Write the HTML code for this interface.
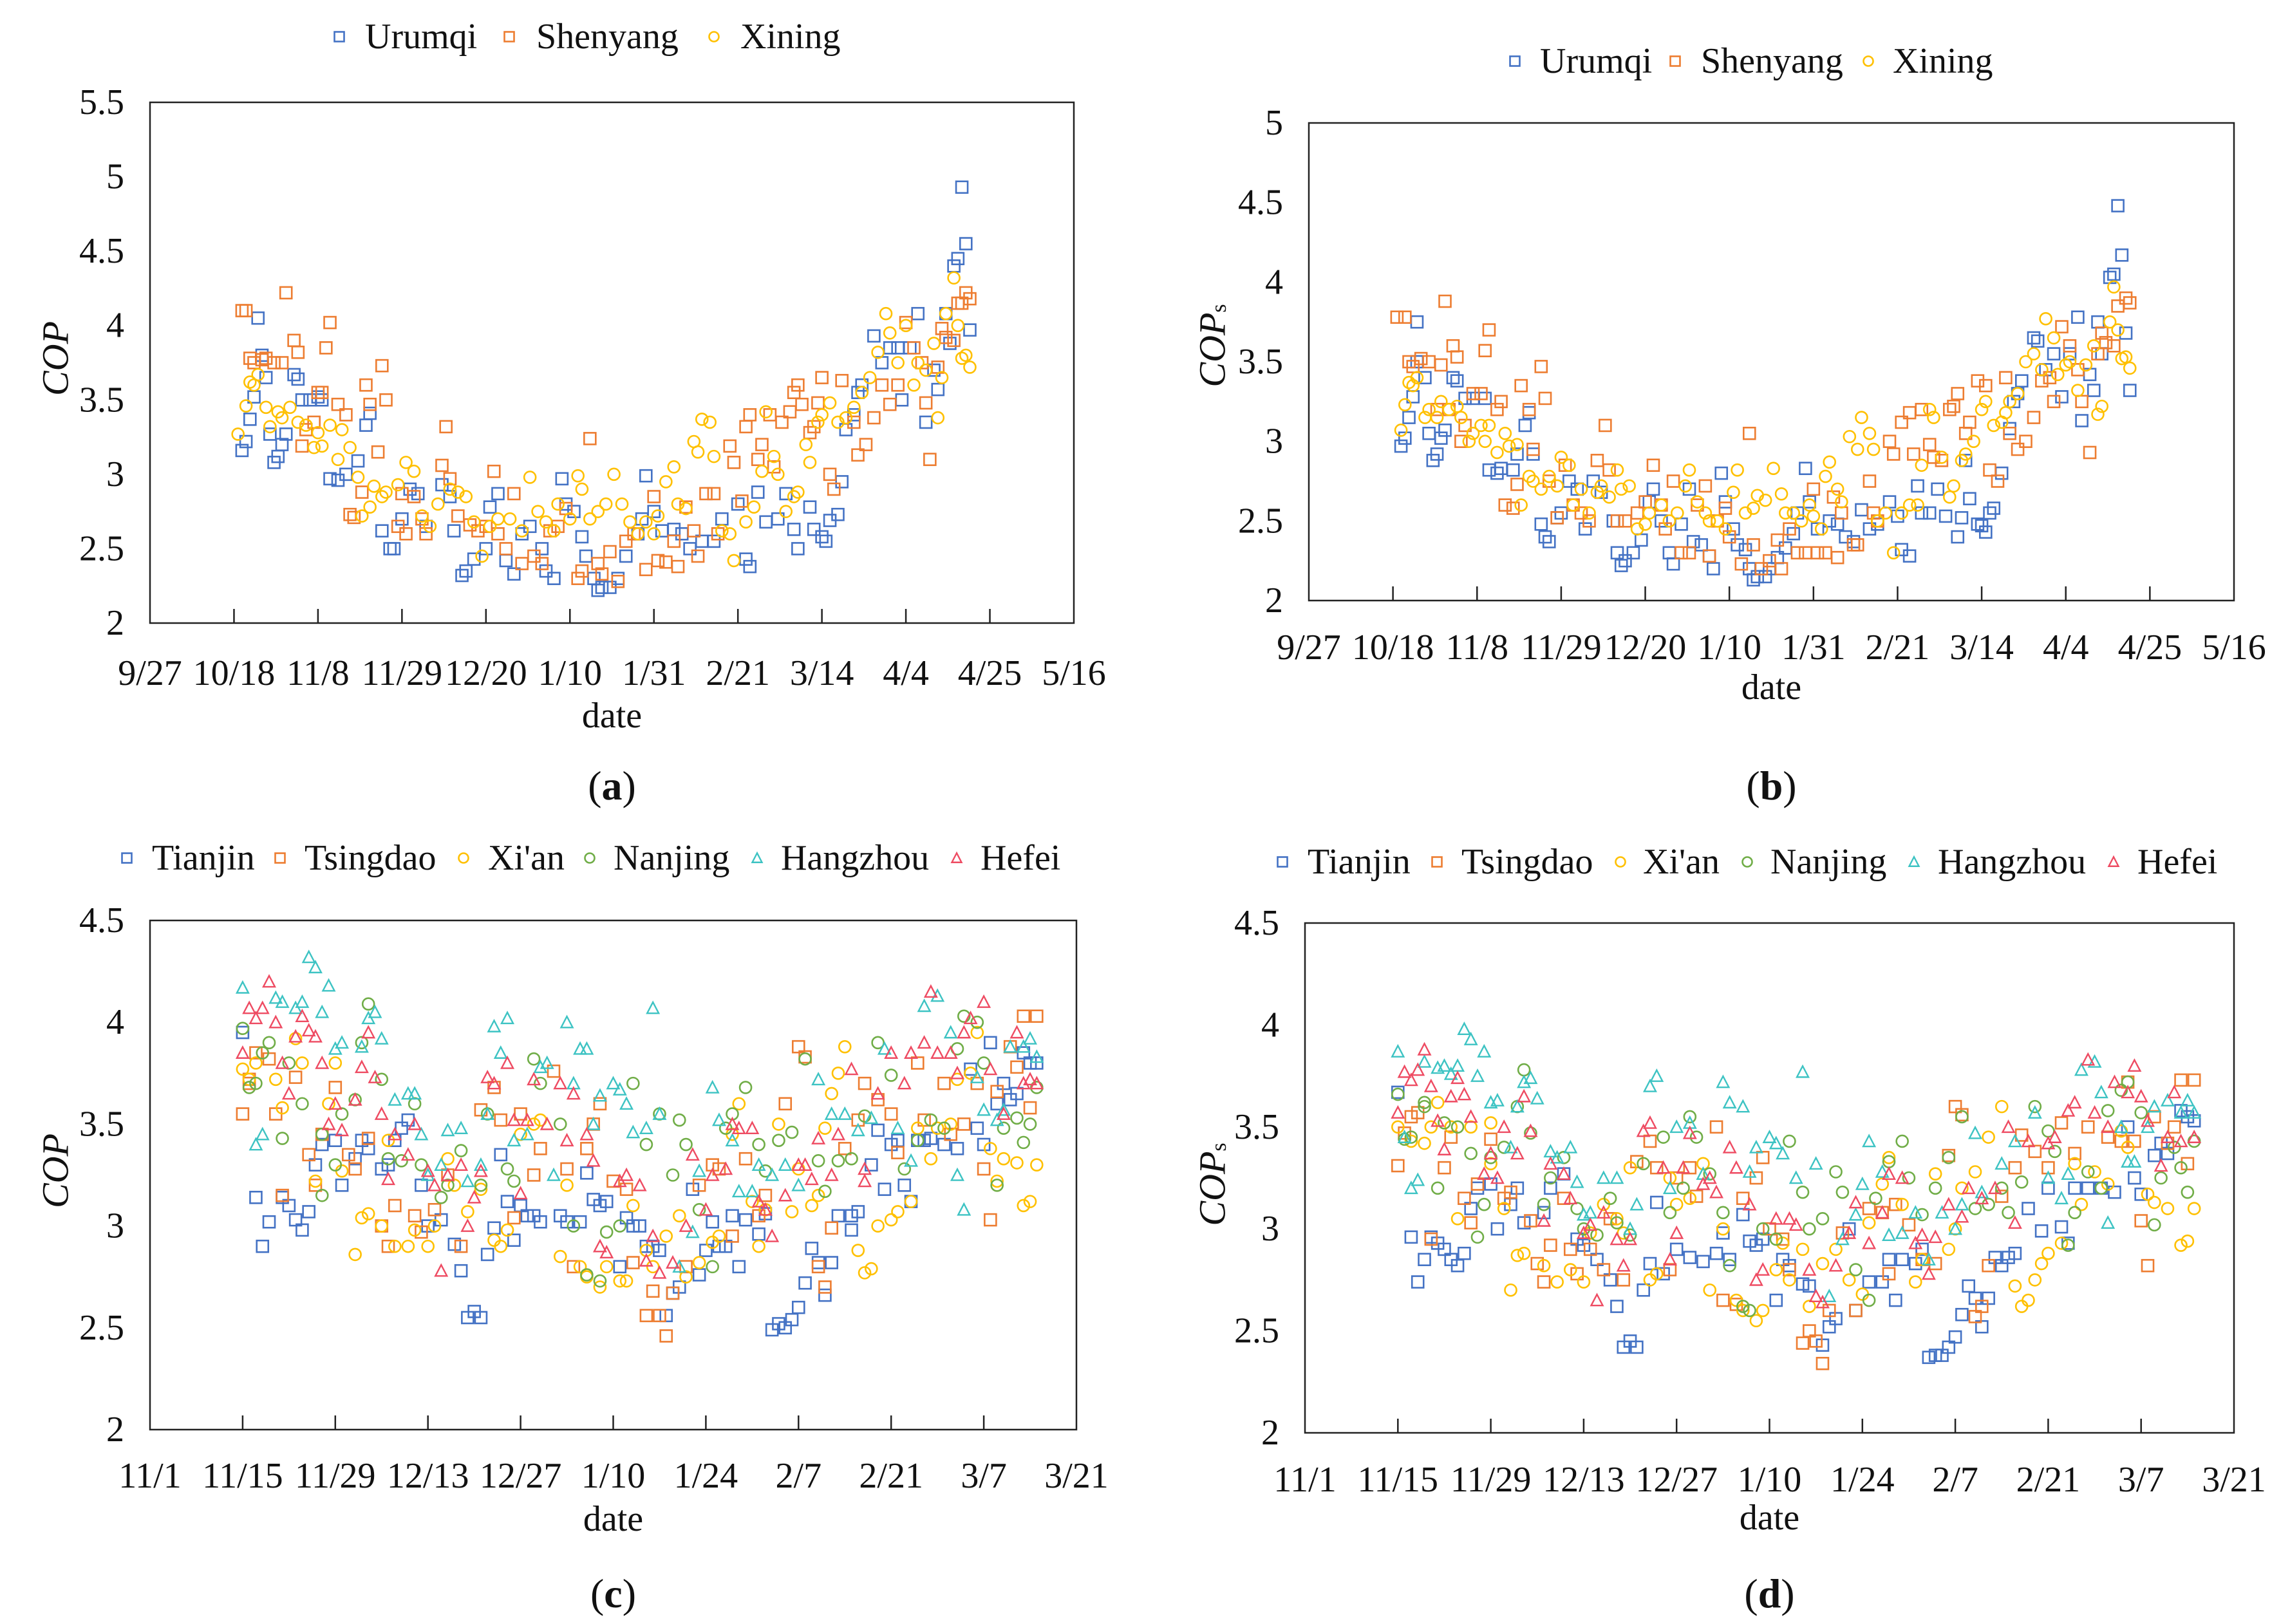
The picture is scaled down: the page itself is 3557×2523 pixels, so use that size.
<!DOCTYPE html>
<html><head><meta charset="utf-8"><style>
html,body{margin:0;padding:0;background:#fff;}
svg{display:block;font-family:"Liberation Serif","DejaVu Serif",serif;}
svg text{font-family:"Liberation Serif","DejaVu Serif",serif;}
</style></head><body>
<svg id="fig" width="3557" height="2523" viewBox="0 0 3557 2523" xmlns="http://www.w3.org/2000/svg" font-family="Liberation Serif, serif">
<rect width="3557" height="2523" fill="#fff"/>
</svg>
<script>
// ---------- tick labels ----------
const abTickLabels = ["9/27","10/18","11/8","11/29","12/20","1/10","1/31","2/21","3/14","4/4","4/25","5/16"];
const cdTickLabels = ["11/1","11/15","11/29","12/13","12/27","1/10","1/24","2/7","2/21","3/7","3/21"];
const aYTicks = ["2","2.5","3","3.5","4","4.5","5","5.5"];
const bYTicks = ["2","2.5","3","3.5","4","4.5","5"];
const cdYTicks = ["2","2.5","3","3.5","4","4.5"];

// ---------- panel (a) data: day offset from 9/27, COP ----------
const urumqiDaysA = [23,24,25,27,26,28,29,30,31,32,33,34,36,37,38,40,42,43,45,47,49,52,54,55,58,60,61,63,65,67,69,73,75,76,78,79,81,84,85,87,89,91,93,95,98,99,101,103,104,106,108,109,111,112,113,115,117,119,122,123,124,126,128,131,133,135,138,141,143,147,149,150,152,154,157,159,161,162,165,166,168,169,170,172,173,174,176,177,178,181,183,185,187,188,190,192,194,196,197,199,200,201,202,203,204,205];
const urumqiCopA = [3.16,3.22,3.37,4.05,3.52,3.8,3.65,3.27,3.08,3.12,3.2,3.27,3.67,3.64,3.5,3.5,3.52,3.5,2.97,2.96,3.0,3.09,3.33,3.41,2.62,2.5,2.5,2.7,2.9,2.87,2.65,2.93,2.85,2.62,2.32,2.35,2.43,2.5,2.78,2.87,2.42,2.33,2.6,2.65,2.5,2.35,2.3,2.97,2.8,2.75,2.58,2.45,2.3,2.22,2.24,2.24,2.3,2.45,2.6,2.7,2.99,2.75,2.62,2.63,2.6,2.5,2.55,2.55,2.7,2.8,2.43,2.38,2.88,2.68,2.7,2.87,2.63,2.5,2.78,2.63,2.58,2.55,2.69,2.73,2.95,3.3,3.4,3.55,3.6,3.93,3.75,3.85,3.85,3.5,3.85,4.08,3.35,3.7,3.57,4.08,3.88,4.4,4.45,4.93,4.55,3.97,3.55].slice(0,106);
const shenyangDaysA = [23,24,25,26,28,29,31,33,34,36,37,38,39,41,42,43,44,45,47,49,50,51,53,54,55,57,58,59,62,63,64,66,68,69,73,74,75,77,80,82,84,86,87,89,91,93,96,98,100,102,104,107,108,110,112,113,115,117,119,121,124,126,127,129,131,132,134,136,137,139,141,142,145,146,148,149,150,152,153,155,156,158,160,161,162,163,165,166,167,168,170,171,173,176,177,179,181,183,185,187,189,191,193,194,195,197,198,199,201,202,203,204,205];
const shenyangCopA = [4.1,4.1,3.78,3.75,3.77,3.78,3.75,3.75,4.22,3.9,3.82,3.19,3.3,3.35,3.55,3.55,3.85,4.02,3.47,3.4,2.73,2.71,2.88,3.6,3.47,3.15,3.73,3.5,2.65,2.87,2.6,2.85,2.7,2.6,3.06,3.32,2.97,2.72,2.66,2.62,2.65,3.02,2.6,2.5,2.87,2.4,2.45,2.4,2.62,2.65,2.77,2.3,2.35,3.24,2.4,2.33,2.48,2.28,2.55,2.6,2.36,2.85,2.42,2.41,2.55,2.38,2.78,2.62,2.45,2.87,2.87,2.6,3.19,3.08,2.82,3.32,3.4,3.1,3.2,3.4,3.05,3.35,3.42,3.55,3.6,3.47,3.28,3.32,3.48,3.65,3.0,2.9,3.63,3.35,3.13,3.2,3.38,3.6,3.47,3.6,4.02,3.85,3.75,3.48,3.1,3.72,3.98,3.92,3.9,4.15,4.15,4.22,4.18];
const xiningDaysA = [22,24,25,26,27,29,30,32,33,35,37,39,41,42,43,45,47,48,50,52,53,55,56,58,59,62,64,66,68,70,72,75,77,79,81,83,85,87,90,93,95,97,99,101,102,105,107,108,110,112,114,116,118,120,122,124,126,127,129,131,132,134,136,137,138,140,141,143,145,146,149,151,153,154,156,157,159,161,162,164,165,167,168,170,172,174,176,178,180,182,184,185,187,189,191,192,194,196,197,198,199,201,202,203,204,205];
const xiningCopA = [3.27,3.46,3.62,3.6,3.67,3.45,3.32,3.42,3.38,3.45,3.35,3.33,3.18,3.28,3.19,3.33,3.1,3.3,3.18,2.98,2.72,2.78,2.92,2.85,2.88,2.93,3.08,3.02,2.72,2.65,2.8,2.9,2.88,2.85,2.68,2.45,2.65,2.7,2.7,2.62,2.98,2.75,2.68,2.62,2.8,2.7,2.99,2.9,2.7,2.75,2.8,3.0,2.8,2.68,2.6,2.68,2.6,2.72,2.95,3.05,2.8,2.77,3.22,3.15,3.37,3.35,3.12,2.62,2.6,2.42,2.68,2.78,3.02,3.42,3.12,3.0,2.75,2.85,2.88,3.2,3.08,3.35,3.4,3.48,3.35,3.38,3.45,3.55,3.65,3.82,4.08,3.95,3.75,4.0,3.6,3.75,3.7,3.88,3.38,3.65,4.08,4.32,4.0,3.78,3.8,3.72];

// ---------- panel (b) data: COPs ----------
const urumqiDaysB = [23,24,25,26,27,27,29,30,31,32,33,34,36,37,39,41,44,45,47,48,51,52,54,55,56,58,59,60,62,63,65,67,69,71,73,76,77,78,79,81,83,85,86,88,90,91,93,95,96,98,100,101,103,104,106,107,109,110,111,112,114,115,117,119,121,122,124,125,127,130,132,134,136,138,140,142,145,147,148,150,152,153,155,157,159,162,163,164,165,167,168,169,170,171,173,175,176,177,178,181,182,184,186,188,190,192,193,195,196,197,198,200,201,202,203,204,205];
const urumqiCopB = [2.97,3.02,3.15,3.28,3.75,3.5,3.4,3.05,2.88,2.92,3.02,3.07,3.4,3.38,3.27,3.27,3.27,2.82,2.8,2.83,2.82,2.92,3.1,3.18,2.92,2.48,2.4,2.37,2.52,2.55,2.75,2.7,2.45,2.75,2.68,2.5,2.3,2.22,2.25,2.3,2.38,2.62,2.7,2.5,2.3,2.23,2.48,2.7,2.37,2.35,2.28,2.2,2.8,2.62,2.45,2.35,2.32,2.2,2.13,2.15,2.15,2.2,2.27,2.33,2.42,2.55,2.83,2.62,2.45,2.5,2.48,2.4,2.37,2.57,2.45,2.48,2.62,2.53,2.32,2.28,2.72,2.55,2.55,2.7,2.53,2.4,2.52,2.88,2.64,2.48,2.47,2.43,2.55,2.58,2.8,3.08,3.25,3.3,3.38,3.65,3.63,3.45,3.55,3.28,3.55,3.78,3.13,3.42,3.32,3.75,3.55,4.03,4.05,4.48,4.17,3.68,3.32];
const shenyangDaysB = [22,24,25,26,28,30,32,33,34,35,36,37,38,39,41,43,44,45,47,48,49,51,52,53,55,56,58,59,60,62,64,66,68,70,72,74,75,77,79,82,84,86,88,89,91,93,95,97,99,100,102,104,105,108,110,111,113,115,117,118,120,122,124,126,127,129,131,132,133,136,137,140,141,142,145,146,148,150,151,153,155,156,158,160,161,162,164,165,167,169,170,172,174,175,177,179,181,183,185,186,188,190,192,193,195,197,198,199,201,202,204,205];
const shenyangCopB = [3.78,3.78,3.5,3.47,3.52,3.5,3.2,3.48,3.88,3.2,3.6,3.53,3.0,3.1,3.3,3.3,3.57,3.7,3.2,3.25,2.6,2.58,2.73,3.35,3.2,2.95,3.47,3.27,2.75,2.52,2.85,2.6,2.55,2.5,2.88,3.1,2.82,2.5,2.5,2.55,2.62,2.85,2.6,2.45,2.75,2.3,2.3,2.6,2.72,2.28,2.5,2.58,2.4,2.23,3.05,2.35,2.2,2.25,2.38,2.2,2.45,2.3,2.3,2.7,2.3,2.3,2.65,2.27,2.55,2.35,2.35,2.75,2.55,2.5,3.0,2.92,3.12,3.18,2.92,3.2,2.98,2.9,2.88,3.2,3.22,3.3,3.05,3.12,3.38,3.35,2.82,2.75,3.4,3.05,2.95,3.0,3.15,3.38,3.4,3.25,3.72,3.6,3.45,3.25,2.93,3.55,3.68,3.62,3.6,3.85,3.9,3.87];
const xiningDaysB = [23,24,25,26,27,29,30,32,33,35,37,38,40,41,43,44,45,47,49,50,52,53,55,56,58,60,62,63,65,66,68,70,72,73,75,77,78,80,82,84,85,88,90,92,94,95,97,99,100,102,104,106,107,109,111,112,114,116,118,119,121,123,125,126,128,129,130,132,133,135,137,138,140,141,142,144,146,148,150,152,153,155,156,158,160,161,163,164,166,168,169,171,173,174,175,177,179,181,183,184,186,187,189,190,192,194,196,197,198,200,201,202,203,204,205];
const xiningCopB = [3.07,3.23,3.37,3.35,3.4,3.15,3.2,3.15,3.25,3.2,3.22,3.15,3.0,3.05,3.1,3.0,3.1,2.93,3.05,2.97,2.98,2.6,2.78,2.75,2.7,2.78,2.72,2.9,2.85,2.6,2.7,2.55,2.68,2.72,2.65,2.82,2.7,2.72,2.45,2.48,2.55,2.6,2.5,2.55,2.72,2.82,2.62,2.55,2.5,2.5,2.45,2.68,2.82,2.55,2.58,2.66,2.63,2.83,2.67,2.55,2.55,2.5,2.6,2.53,2.45,2.78,2.87,2.7,2.62,3.03,2.95,3.15,3.05,2.95,2.5,2.55,2.3,2.55,2.6,2.6,2.85,3.2,3.15,2.9,2.65,2.72,2.88,2.92,3.0,3.2,3.25,3.1,3.12,3.18,3.25,3.3,3.5,3.55,3.45,3.77,3.65,3.42,3.48,3.5,3.32,3.48,3.6,3.17,3.22,3.75,3.97,3.7,3.52,3.53,3.46];

// ---------- panel (c) data: day offset from 11/1, COP ----------
const tianjinDaysC = [14,16,17,18,20,21,22,23,24,25,26,28,29,31,32,33,35,36,37,38,39,41,42,44,46,47,48,49,50,51,52,53,54,55,56,57,58,59,62,63,65,66,67,68,69,71,72,73,74,75,76,77,78,79,80,82,83,84,85,86,87,88,89,90,92,93,94,95,96,97,98,99,100,101,102,103,104,106,106,107,109,110,111,112,113,114,115,116,117,118,120,122,124,125,126,127,128,129,130,131,132,133,134];
const tianjinCopC = [3.95,3.14,2.9,3.02,3.14,3.1,3.03,2.98,3.07,3.3,3.4,3.42,3.2,3.33,3.42,3.38,3.28,3.3,3.42,3.48,3.52,3.2,3.0,3.03,2.91,2.78,2.55,2.58,2.55,2.86,2.99,3.35,3.12,2.93,3.1,3.05,3.05,3.02,3.05,3.02,3.02,3.26,3.13,3.1,3.12,2.8,3.04,3.0,3.0,2.9,2.9,2.88,2.56,2.67,2.7,3.18,2.76,2.88,3.02,2.9,2.9,3.05,2.8,3.03,2.96,3.06,2.49,2.52,2.5,2.54,2.6,2.72,2.89,2.82,2.66,2.82,3.05,2.98,3.05,3.07,3.3,3.47,3.18,3.4,3.42,3.2,3.12,3.42,3.42,3.43,3.4,3.38,3.77,3.48,3.4,3.9,3.6,3.7,3.62,3.65,3.85,3.8,3.8];
const tsingdaoDaysC = [14,15,15,16,18,19,20,22,24,25,26,28,30,31,33,35,36,37,40,41,43,45,47,50,52,53,55,56,58,59,61,63,64,66,67,68,70,72,73,75,76,77,78,79,81,83,85,86,88,90,92,93,96,98,99,101,102,103,105,107,108,110,112,113,116,117,120,121,123,125,126,127,128,130,131,132,133,134];
const tsingdaoCopC = [3.55,3.7,3.72,3.85,3.82,3.55,3.15,3.73,3.35,3.2,3.45,3.68,3.35,3.28,3.43,3.0,2.9,3.1,3.05,2.97,3.08,3.25,2.9,3.57,3.68,3.52,3.04,3.55,3.25,3.38,3.76,3.28,2.8,3.38,3.5,3.6,3.22,3.18,2.82,2.56,2.68,2.56,2.46,2.67,2.8,3.2,3.3,3.28,2.95,3.33,3.05,3.15,3.6,3.88,3.83,2.8,2.7,2.99,3.38,3.52,3.7,3.62,3.55,3.36,3.8,3.52,3.7,3.45,3.5,3.7,3.28,3.03,3.66,3.88,3.78,4.03,3.58,4.03];
const xianDaysC = [14,15,16,19,20,22,23,25,27,28,29,31,32,33,35,36,37,39,40,42,43,45,46,48,50,52,53,54,56,58,59,62,63,65,66,68,69,71,72,73,75,76,78,80,81,83,85,86,88,89,91,92,93,95,97,98,100,101,102,103,104,105,107,108,109,110,112,113,115,116,118,119,121,122,124,125,127,128,129,131,132,133,134];
const xianCopC = [3.77,3.72,3.8,3.72,3.58,3.92,3.8,3.22,3.6,3.8,3.27,2.86,3.04,3.06,3.0,3.42,2.9,2.9,2.98,2.9,3.0,3.33,3.2,3.07,3.18,2.93,2.9,2.98,3.45,3.5,3.52,2.85,3.2,2.8,2.75,2.7,2.8,2.73,2.73,3.1,2.88,2.8,2.95,3.05,2.75,2.82,2.92,2.95,3.45,3.6,3.12,2.9,3.08,3.5,3.07,3.28,3.1,3.15,3.48,3.65,3.75,3.88,2.88,2.77,2.79,3.0,3.03,3.07,3.12,3.48,3.33,3.48,3.5,3.72,3.75,3.95,3.38,3.22,3.33,3.31,3.1,3.12,3.3];
const nanjingDaysC = [14,15,16,17,18,20,21,23,26,26,28,29,31,32,33,35,36,38,40,41,44,45,47,50,51,54,55,58,59,62,64,66,68,69,71,73,75,77,79,80,81,83,85,87,88,90,92,93,95,97,99,101,102,104,106,108,110,112,114,116,118,120,122,123,125,126,128,129,131,132,133,134];
const nanjingCopC = [3.97,3.68,3.7,3.85,3.9,3.43,3.8,3.6,3.15,3.45,3.3,3.55,3.62,3.9,4.09,3.72,3.33,3.32,3.6,3.3,3.14,3.2,3.37,3.2,3.55,3.28,3.22,3.82,3.7,3.5,3.0,2.76,2.73,2.97,3.0,3.7,3.4,3.55,3.25,3.52,3.4,3.08,2.8,3.48,3.55,3.68,3.4,3.27,3.42,3.46,3.82,3.32,3.17,3.32,3.33,3.54,3.9,3.74,3.28,3.42,3.52,3.48,3.87,4.03,4.0,3.8,3.2,3.48,3.53,3.41,3.5,3.68];
const hangzhouDaysC = [14,16,17,19,20,22,23,24,25,26,27,28,29,32,33,34,35,37,39,40,41,42,44,45,47,48,50,51,52,53,54,55,57,59,60,61,63,64,65,66,67,68,70,71,72,73,75,76,77,80,82,83,85,86,88,89,91,92,94,96,98,101,103,105,107,109,111,113,115,117,119,121,122,123,125,126,128,129,130,132,133,134];
const hangzhouCopC = [4.17,3.4,3.45,4.12,4.1,4.07,4.1,4.32,4.27,4.05,4.18,3.87,3.9,3.88,4.02,4.05,3.92,3.62,3.65,3.65,3.45,3.25,3.3,3.47,3.48,3.22,3.3,3.55,3.98,3.85,4.02,3.42,3.45,3.78,3.8,3.25,4.0,3.7,3.87,3.87,3.5,3.64,3.7,3.67,3.6,3.46,3.48,4.07,3.55,2.8,2.97,3.27,3.68,3.52,3.42,3.17,3.17,3.3,3.25,3.3,3.2,3.72,3.55,3.55,3.47,3.53,3.87,3.48,3.32,4.08,4.13,3.95,3.25,3.08,3.73,3.57,3.52,3.57,3.88,3.88,3.92,3.83];
const hefeiDaysC = [14,15,16,17,18,19,20,21,22,23,24,25,26,27,28,29,31,32,33,34,35,36,37,39,40,42,43,44,45,47,48,49,50,51,52,54,55,56,57,58,60,62,63,64,66,67,68,69,71,72,74,75,76,77,79,81,82,84,85,87,88,89,91,92,93,94,96,98,99,100,101,103,104,106,108,108,110,112,114,115,117,118,119,121,122,123,124,126,127,129,131,132,133,134];
const hefeiCopC = [3.85,4.07,4.02,4.07,4.2,4.0,3.8,3.65,3.93,4.03,3.96,3.93,3.8,3.5,3.6,3.47,3.62,3.78,3.95,3.73,3.55,3.23,3.45,3.35,3.5,3.27,3.2,2.78,3.25,3.3,3.0,3.14,3.27,3.73,3.7,3.8,3.52,3.16,3.52,3.72,3.5,3.7,3.42,3.65,3.45,3.32,2.9,2.87,3.22,3.25,3.2,2.83,2.95,2.77,2.82,3.0,3.35,3.08,3.25,3.28,3.5,3.48,3.48,3.12,3.08,2.95,3.15,3.3,3.3,3.23,3.43,3.25,3.45,3.77,3.22,3.28,3.65,3.85,3.7,3.85,3.9,4.15,3.85,3.85,3.75,3.95,4.02,4.1,3.77,3.55,3.95,3.7,3.72,3.7];

// ---------- panel (d) data: COPs ----------
const tianjinDaysD = [14,16,17,18,19,20,21,22,23,24,25,26,28,29,31,32,33,36,37,39,41,42,44,46,47,48,49,50,51,52,53,54,56,58,60,62,63,64,66,67,68,69,71,72,73,75,76,78,79,80,82,83,85,87,88,89,90,92,93,94,95,96,97,98,99,100,101,102,103,104,105,106,107,109,111,112,114,115,116,118,120,122,124,125,126,128,129,130,132,133,134];
const tianjinCopD = [3.67,2.96,2.74,2.85,2.96,2.93,2.9,2.85,2.82,2.88,3.1,3.2,3.22,3.0,3.12,3.2,3.03,3.08,3.2,3.27,2.95,2.92,2.85,2.75,2.62,2.42,2.45,2.42,2.7,2.83,3.13,2.78,2.9,2.86,2.84,2.88,2.98,2.85,3.07,2.94,2.92,2.95,2.65,2.85,2.82,2.73,2.72,2.43,2.52,2.56,3.0,2.6,2.74,2.74,2.85,2.65,2.85,2.83,2.9,2.37,2.38,2.38,2.42,2.47,2.58,2.72,2.66,2.52,2.66,2.86,2.82,2.86,2.88,3.1,2.99,3.2,3.01,2.93,3.2,3.2,3.2,3.18,3.5,3.25,3.17,3.36,3.42,3.37,3.58,3.55,3.53];
const tsingdaoDaysD = [14,15,16,17,19,21,22,24,25,26,28,30,31,34,35,36,37,39,40,41,43,45,46,48,50,52,53,55,56,58,59,62,63,65,66,68,69,70,72,73,75,76,77,78,79,81,83,85,87,88,89,91,93,95,97,98,99,101,102,103,105,107,108,110,112,114,116,118,121,123,124,125,126,127,128,130,131,132,133,134];
const tsingdaoCopD = [3.31,3.47,3.55,3.57,2.95,3.3,3.45,3.15,3.03,3.22,3.44,3.15,3.18,3.04,2.83,2.74,2.92,3.15,2.9,2.78,2.9,2.8,3.05,2.75,3.33,3.43,3.3,2.8,3.25,3.3,3.16,3.5,2.65,2.63,3.15,3.25,3.35,3.0,2.95,2.8,2.44,2.5,2.45,2.34,2.6,2.98,2.6,3.1,3.08,2.78,3.12,3.02,2.85,2.83,3.36,3.6,3.56,2.57,2.62,2.82,3.16,3.3,3.46,3.38,3.3,3.52,3.37,3.5,3.45,3.43,3.72,3.43,3.04,2.82,3.55,3.42,3.5,3.73,3.32,3.73];
const xianDaysD = [14,16,18,19,20,22,23,25,28,28,30,31,32,33,36,38,40,42,43,45,47,48,49,52,53,55,56,58,60,61,63,65,66,68,69,71,72,73,75,76,78,80,82,84,85,87,88,90,92,93,95,97,98,99,101,103,105,107,108,109,110,111,112,114,116,117,119,121,123,124,127,128,130,132,133,134];
const xianCopD = [3.5,3.43,3.42,3.5,3.62,3.5,3.05,3.5,3.52,3.32,3.1,2.7,2.87,2.88,2.82,2.74,2.8,2.74,2.98,3.12,3.05,2.98,3.3,2.75,2.78,3.25,3.12,3.15,3.32,2.7,3.0,2.65,2.6,2.55,2.6,2.8,2.93,2.75,2.9,2.62,2.83,2.9,2.75,2.68,3.03,3.22,3.35,3.12,2.74,2.85,3.27,2.9,3.0,3.2,3.28,3.45,3.6,2.72,2.62,2.65,2.75,2.83,2.88,2.93,3.32,3.12,3.28,3.22,3.48,3.4,3.17,3.13,3.1,2.92,2.94,3.1];
const nanjingDaysD = [14,15,16,18,18,20,21,23,25,26,27,28,30,32,33,34,36,37,39,41,42,44,46,47,49,51,54,55,57,58,59,61,63,64,66,67,69,71,73,75,76,78,80,81,83,85,86,88,90,91,93,95,97,99,101,103,105,106,108,110,112,113,115,116,118,120,121,123,124,126,128,129,131,132,133,134];
const nanjingCopD = [3.66,3.44,3.45,3.62,3.6,3.2,3.52,3.5,3.37,2.96,3.12,3.35,3.4,3.6,3.78,3.47,3.12,3.25,3.35,3.1,3.0,2.97,3.15,3.03,2.97,3.32,3.45,3.08,3.2,3.55,3.45,3.27,3.08,2.82,2.62,2.6,3.0,2.95,3.43,3.18,3.0,3.05,3.28,3.18,2.8,2.65,3.15,3.33,3.43,3.25,3.07,3.2,3.35,3.55,3.1,3.12,3.2,3.08,3.23,3.6,3.48,3.38,2.92,3.08,3.28,3.2,3.58,3.68,3.72,3.57,3.02,3.25,3.4,3.3,3.18,3.43];
const hangzhouDaysD = [14,15,16,17,18,20,21,22,23,24,25,26,27,28,29,31,32,33,34,35,37,38,40,41,42,43,45,47,49,50,52,53,55,56,58,60,63,64,66,67,68,70,71,72,74,75,77,79,81,83,84,85,87,88,90,92,94,96,98,99,101,102,105,107,110,112,114,115,117,119,120,121,123,124,125,127,128,130,132,133,134];
const hangzhouCopD = [3.87,3.45,3.2,3.24,3.82,3.79,3.8,3.76,3.8,3.98,3.93,3.75,3.87,3.62,3.63,3.4,3.6,3.72,3.74,3.64,3.38,3.35,3.4,3.23,3.07,3.08,3.25,3.25,3.0,3.12,3.7,3.75,3.2,3.5,3.52,3.27,3.72,3.62,3.6,3.28,3.4,3.45,3.42,3.37,3.25,3.77,3.32,2.67,2.95,3.07,3.22,3.43,3.28,2.97,2.98,3.08,2.85,3.08,3.0,3.12,3.47,3.18,3.32,3.43,3.57,3.25,3.15,3.27,3.78,3.82,3.67,3.03,3.5,3.33,3.33,3.5,3.6,3.63,3.57,3.63,3.57];
const hefeiDaysD = [14,15,16,17,18,19,20,21,22,23,24,25,27,28,29,30,32,33,34,36,37,39,40,42,43,44,45,47,48,49,51,52,54,55,56,57,58,60,61,62,64,65,67,68,69,71,73,74,76,77,78,80,82,83,85,87,88,90,92,93,94,95,97,99,100,102,104,106,107,109,112,113,115,116,118,119,121,122,124,125,126,127,129,130,131,132,134];
const hefeiCopD = [3.57,3.77,3.73,3.78,3.88,3.7,3.53,3.39,3.65,3.74,3.66,3.55,3.27,3.37,3.25,3.5,3.37,3.65,3.48,3.04,3.32,3.27,3.15,2.98,3.02,2.65,3.08,2.95,2.82,2.95,3.48,3.52,3.3,2.85,2.98,3.3,3.47,3.22,3.25,3.18,3.4,3.3,3.12,2.75,2.8,3.05,3.05,3.02,2.8,2.67,2.64,2.82,2.98,3.13,2.93,3.08,3.27,3.25,2.93,2.97,2.78,2.96,3.12,3.06,3.2,3.15,3.2,3.5,3.03,3.43,3.42,3.45,3.58,3.62,3.83,3.57,3.5,3.72,3.67,3.8,3.65,3.53,3.31,3.45,3.67,3.43,3.45];

const COLORS = {blue:"#4472C4", orange:"#ED7D31", yellow:"#FFC000", green:"#70AD47", teal:"#3DC3C3", red:"#EE4B62"};
const FONT = '"Liberation Serif", "DejaVu Serif", serif';
const NS = "http://www.w3.org/2000/svg";
const svg = document.getElementById('fig');
function mk(tag, attrs, parent){
  const e = document.createElementNS(NS, tag);
  for (const k in attrs) e.setAttribute(k, attrs[k]);
  (parent||svg).appendChild(e);
  return e;
}
function marker(shape, cx, cy, s, color, parent){
  let e;
  if (shape==='square') e = mk('rect',{x:cx-s/2,y:cy-s/2,width:s,height:s,fill:'none',stroke:color,'stroke-width':2.6},parent);
  else if (shape==='circle') e = mk('circle',{cx:cx,cy:cy,r:s/2,fill:'none',stroke:color,'stroke-width':2.6},parent);
  else { const h=s*0.9; e = mk('polygon',{points:`${cx},${cy-h/2-1} ${cx-s/2},${cy+h/2} ${cx+s/2},${cy+h/2}`,fill:'none',stroke:color,'stroke-width':2.4},parent); }
  return e;
}
function text(str, x, y, size, parent, extra){
  const t = mk('text', Object.assign({x:x,y:y,'font-size':size,'font-family':FONT,fill:'#111','dominant-baseline':'central'}, extra||{}), parent);
  t.style.fontFamily = FONT;
  t.textContent = str; return t;
}

function panel(cfg){
  const g = mk('g',{});
  
  
  const {L,R,T,B,xMax,yMin,yMax} = cfg;
  const xs = d => L + (d/xMax)*(R-L);
  const ys = v => B - (v-yMin)/(yMax-yMin)*(B-T);
  const lg = mk('g',{},g);
  
  
  cfg.series.forEach(s=>{
    const it = mk('g',{},lg);
    
    
    marker(s.shape, s.lx, cfg.legY, 15, s.color, it);
    text(s.label, s.tx, cfg.legY, 56, it);
  });
  const box = mk('rect',{x:L,y:T,width:R-L,height:B-T,fill:'none',stroke:'#222','stroke-width':2.5},g);
  
  
  cfg.yTicks.forEach(lbl=>{
    const t = text(lbl, L-40, ys(parseFloat(lbl)), 56, g, {'text-anchor':'end'});
    
    
  });
  const n = cfg.xTicks.length-1;
  cfg.xTicks.forEach((lbl,i)=>{
    const d = i*xMax/n;
    if (i>0 && i<n){
      const tk = mk('line',{x1:xs(d),x2:xs(d),y1:B,y2:B-22,stroke:'#222','stroke-width':2.5},g);
      
      
    }
    const t = text(lbl, xs(d), cfg.xLabY, 56, g, {'text-anchor':'middle'});
    
    
  });
  const xt = text('date', (L+R)/2, cfg.dateY, 56, g, {'text-anchor':'middle'});
  
  
  const yt = mk('text',{x:0,y:0,'font-size':58,'font-family':FONT,'font-style':'italic',fill:'#111','text-anchor':'middle','dominant-baseline':'central',transform:`translate(${cfg.yLabX},${cfg.yLabY}) rotate(-90)`},g);
  yt.style.fontFamily = FONT;
  yt.textContent = 'COP';
  if (cfg.sub){ const ts = mk('tspan',{'font-size':34,'font-style':'normal',dy:10},yt); ts.textContent='s'; }
  
  
  const cap = mk('text',{x:(L+R)/2,y:cfg.capY,'font-size':64,'font-family':FONT,fill:'#111','text-anchor':'middle','dominant-baseline':'central'},g);
  cap.style.fontFamily = FONT;
  const p1 = mk('tspan',{},cap); p1.textContent='(';
  const p2 = mk('tspan',{'font-weight':'bold'},cap); p2.textContent=cfg.letter;
  const p3 = mk('tspan',{},cap); p3.textContent=')';
  
  
  cfg.series.forEach(s=>{
    const sg = mk('g',{},g);
    
    
    const n = Math.min(s.days.length, s.vals.length);
    for (let i=0;i<n;i++){
      const m = marker(s.shape, xs(s.days[i]), ys(s.vals[i]), 18, s.color, sg);
      
      
    }
  });
}

panel({name:'panel-a',letter:'a',L:233,R:1668,T:159,B:968,xMax:231,yMin:2,yMax:5.5,xTicks:abTickLabels,yTicks:aYTicks,
  legY:57,xLabY:1046,dateY:1112,capY:1220,yLabX:86,yLabY:557,sub:false,
  series:[
    {label:'Urumqi',shape:'square',color:COLORS.blue,days:urumqiDaysA,vals:urumqiCopA,lx:527,tx:567},
    {label:'Shenyang',shape:'square',color:COLORS.orange,days:shenyangDaysA,vals:shenyangCopA,lx:791,tx:833},
    {label:'Xining',shape:'circle',color:COLORS.yellow,days:xiningDaysA,vals:xiningCopA,lx:1109,tx:1150}]});
panel({name:'panel-b',letter:'b',L:2033,R:3470,T:191,B:933,xMax:231,yMin:2,yMax:5,xTicks:abTickLabels,yTicks:bYTicks,
  legY:95,xLabY:1006,dateY:1068,capY:1220,yLabX:1883,yLabY:537,sub:true,
  series:[
    {label:'Urumqi',shape:'square',color:COLORS.blue,days:urumqiDaysB,vals:urumqiCopB,lx:2353,tx:2392},
    {label:'Shenyang',shape:'square',color:COLORS.orange,days:shenyangDaysB,vals:shenyangCopB,lx:2602,tx:2642},
    {label:'Xining',shape:'circle',color:COLORS.yellow,days:xiningDaysB,vals:xiningCopB,lx:2902,tx:2940}]});
panel({name:'panel-c',letter:'c',L:233,R:1672,T:1430,B:2221,xMax:140,yMin:2,yMax:4.5,xTicks:cdTickLabels,yTicks:cdYTicks,
  legY:1333,xLabY:2293,dateY:2360,capY:2475,yLabX:86,yLabY:1819,sub:false,
  series:[
    {label:'Tianjin',shape:'square',color:COLORS.blue,days:tianjinDaysC,vals:tianjinCopC,lx:197,tx:236},
    {label:'Tsingdao',shape:'square',color:COLORS.orange,days:tsingdaoDaysC,vals:tsingdaoCopC,lx:435,tx:473},
    {label:"Xi'an",shape:'circle',color:COLORS.yellow,days:xianDaysC,vals:xianCopC,lx:720,tx:758},
    {label:'Nanjing',shape:'circle',color:COLORS.green,days:nanjingDaysC,vals:nanjingCopC,lx:916,tx:953},
    {label:'Hangzhou',shape:'triangle',color:COLORS.teal,days:hangzhouDaysC,vals:hangzhouCopC,lx:1176,tx:1213},
    {label:'Hefei',shape:'triangle',color:COLORS.red,days:hefeiDaysC,vals:hefeiCopC,lx:1486,tx:1523}]});
panel({name:'panel-d',letter:'d',L:2027,R:3470,T:1434,B:2226,xMax:140,yMin:2,yMax:4.5,xTicks:cdTickLabels,yTicks:cdYTicks,
  legY:1339,xLabY:2299,dateY:2358,capY:2475,yLabX:1883,yLabY:1840,sub:true,
  series:[
    {label:'Tianjin',shape:'square',color:COLORS.blue,days:tianjinDaysD,vals:tianjinCopD,lx:1992,tx:2031},
    {label:'Tsingdao',shape:'square',color:COLORS.orange,days:tsingdaoDaysD,vals:tsingdaoCopD,lx:2232,tx:2270},
    {label:"Xi'an",shape:'circle',color:COLORS.yellow,days:xianDaysD,vals:xianCopD,lx:2517,tx:2552},
    {label:'Nanjing',shape:'circle',color:COLORS.green,days:nanjingDaysD,vals:nanjingCopD,lx:2714,tx:2750},
    {label:'Hangzhou',shape:'triangle',color:COLORS.teal,days:hangzhouDaysD,vals:hangzhouCopD,lx:2973,tx:3010},
    {label:'Hefei',shape:'triangle',color:COLORS.red,days:hefeiDaysD,vals:hefeiCopD,lx:3283,tx:3320}]});
</script>
</body></html>
